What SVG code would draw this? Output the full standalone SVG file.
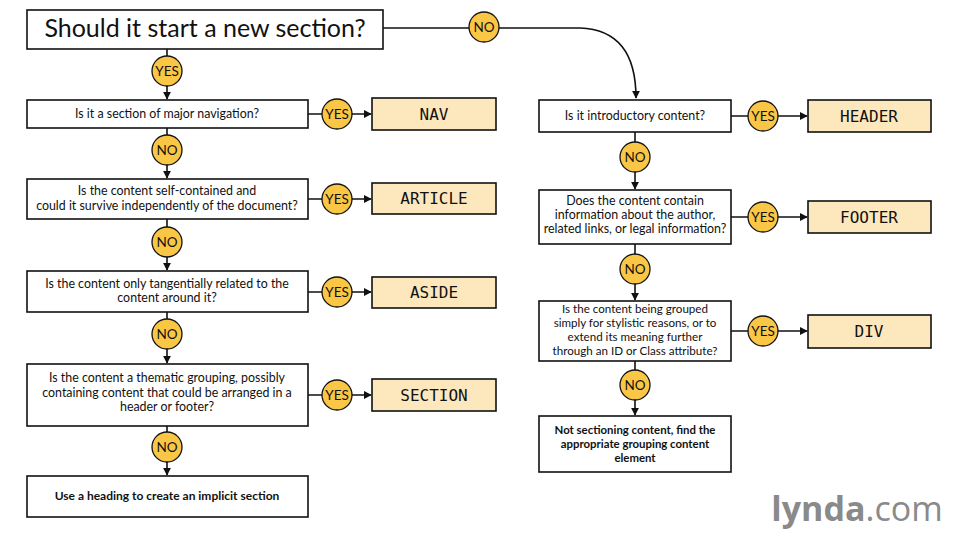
<svg xmlns="http://www.w3.org/2000/svg" width="959" height="535" viewBox="0 0 959 535">
<defs>
<marker id="ah" viewBox="0 0 10 10" refX="9" refY="5" markerWidth="5" markerHeight="5" orient="auto"><path d="M0,0 L10,5 L0,10 z" fill="#111"/></marker>
<style>
.q{fill:#fff;stroke:#111;stroke-width:1.6}
.a{fill:#fde8bd;stroke:#111;stroke-width:1.6}
.c{fill:#f9c646;stroke:#111;stroke-width:1.3}
.t{font-family:Lato,"Open Sans",sans-serif;font-size:12.4px;fill:#111;text-anchor:middle}
.s{font-size:11.6px}
.b{font-weight:bold;font-size:12px}
.bs{font-weight:bold;font-size:11.4px}
.m{font-family:"DejaVu Sans Mono",monospace;font-size:16px;fill:#111;text-anchor:middle}
.ct{font-family:Lato,sans-serif;font-size:13.5px;fill:#111;text-anchor:middle}
.l{stroke:#111;stroke-width:1.6;fill:none}
</style>
</defs>
<rect width="959" height="535" fill="#fff"/>
<g id="connectors">
<path class="l" d="M383,28 H580 Q636,30 636,98" marker-end="url(#ah)"/>
<path class="l" d="M167,49 V99" marker-end="url(#ah)"/>
<path class="l" d="M167,128 V178" marker-end="url(#ah)"/>
<path class="l" d="M167,219 V270" marker-end="url(#ah)"/>
<path class="l" d="M167,312 V363" marker-end="url(#ah)"/>
<path class="l" d="M167,426 V475" marker-end="url(#ah)"/>
<path class="l" d="M308,114 H371" marker-end="url(#ah)"/>
<path class="l" d="M308,199 H371" marker-end="url(#ah)"/>
<path class="l" d="M308,292 H371" marker-end="url(#ah)"/>
<path class="l" d="M308,395 H371" marker-end="url(#ah)"/>
<path class="l" d="M635,132 V189" marker-end="url(#ah)"/>
<path class="l" d="M635,244 V300" marker-end="url(#ah)"/>
<path class="l" d="M635,361 V415" marker-end="url(#ah)"/>
<path class="l" d="M731,116 H807" marker-end="url(#ah)"/>
<path class="l" d="M731,217 H807" marker-end="url(#ah)"/>
<path class="l" d="M731,331 H807" marker-end="url(#ah)"/>
</g>
<g id="labels">
<circle class="c" cx="484" cy="27" r="15"/><text class="ct" x="484" y="32">NO</text>
<circle class="c" cx="167" cy="71" r="15"/><text class="ct" x="167" y="76">YES</text>
<circle class="c" cx="167" cy="150" r="15"/><text class="ct" x="167" y="155">NO</text>
<circle class="c" cx="167" cy="242" r="15"/><text class="ct" x="167" y="247">NO</text>
<circle class="c" cx="167" cy="334" r="15"/><text class="ct" x="167" y="339">NO</text>
<circle class="c" cx="167" cy="447" r="15"/><text class="ct" x="167" y="452">NO</text>
<circle class="c" cx="337" cy="114" r="15"/><text class="ct" x="337" y="119">YES</text>
<circle class="c" cx="337" cy="199" r="15"/><text class="ct" x="337" y="204">YES</text>
<circle class="c" cx="337" cy="292" r="15"/><text class="ct" x="337" y="297">YES</text>
<circle class="c" cx="337" cy="395" r="15"/><text class="ct" x="337" y="400">YES</text>
<circle class="c" cx="635" cy="157" r="15"/><text class="ct" x="635" y="162">NO</text>
<circle class="c" cx="635" cy="269" r="15"/><text class="ct" x="635" y="274">NO</text>
<circle class="c" cx="635" cy="385" r="15"/><text class="ct" x="635" y="390">NO</text>
<circle class="c" cx="763" cy="116" r="15"/><text class="ct" x="763" y="121">YES</text>
<circle class="c" cx="763" cy="217" r="15"/><text class="ct" x="763" y="222">YES</text>
<circle class="c" cx="763" cy="331" r="15"/><text class="ct" x="763" y="336">YES</text>
</g>
<g id="start"><rect class="q" x="27" y="10" width="356" height="39"/><text class="t" x="205" y="37" style="font-size:25px">Should it start a new section?</text></g>
<g id="q1"><rect class="q" x="27" y="100" width="281" height="28"/><text class="t" x="167" y="118">Is it a section of major navigation?</text></g>
<g id="q2"><rect class="q" x="27" y="179" width="281" height="40"/><text class="t" x="167" y="195">Is the content self-contained and</text><text class="t" x="167" y="210">could it survive independently of the document?</text></g>
<g id="q3"><rect class="q" x="27" y="271" width="281" height="41"/><text class="t" x="167" y="288">Is the content only tangentially related to the</text><text class="t" x="167" y="302">content around it?</text></g>
<g id="q4"><rect class="q" x="27" y="364" width="281" height="62"/><text class="t" x="167" y="382">Is the content a thematic grouping, possibly</text><text class="t" x="167" y="397">containing content that could be arranged in a</text><text class="t" x="167" y="411">header or footer?</text></g>
<g id="e1"><rect class="q" x="27" y="476" width="281" height="41"/><text class="t b" x="167" y="500">Use a heading to create an implicit section</text></g>
<g id="nav"><rect class="a" x="372" y="98" width="124" height="32"/><text class="m" x="434" y="120">NAV</text></g>
<g id="article"><rect class="a" x="372" y="183" width="124" height="31"/><text class="m" x="434" y="204">ARTICLE</text></g>
<g id="aside"><rect class="a" x="372" y="277" width="124" height="31"/><text class="m" x="434" y="298">ASIDE</text></g>
<g id="section"><rect class="a" x="372" y="379" width="124" height="32"/><text class="m" x="434" y="401">SECTION</text></g>
<g id="r1"><rect class="q" x="539" y="100" width="192" height="32"/><text class="t" x="635" y="120">Is it introductory content?</text></g>
<g id="r2"><rect class="q" x="539" y="190" width="192" height="54"/><text class="t" x="635" y="205">Does the content contain</text><text class="t" x="635" y="219">information about the author,</text><text class="t" x="635" y="233">related links, or legal information?</text></g>
<g id="r3"><rect class="q" x="539" y="301" width="192" height="60"/><text class="t s" x="635" y="313">Is the content being grouped</text><text class="t s" x="635" y="327">simply for stylistic reasons, or to</text><text class="t s" x="635" y="341">extend its meaning further</text><text class="t s" x="635" y="355">through an ID or Class attribute?</text></g>
<g id="r4"><rect class="q" x="539" y="416" width="192" height="56"/><text class="t bs" x="635" y="434">Not sectioning content, find the</text><text class="t bs" x="635" y="448">appropriate grouping content</text><text class="t bs" x="635" y="462">element</text></g>
<g id="header"><rect class="a" x="808" y="100" width="123" height="32"/><text class="m" x="869" y="122">HEADER</text></g>
<g id="footer"><rect class="a" x="808" y="201" width="123" height="32"/><text class="m" x="869" y="223">FOOTER</text></g>
<g id="div"><rect class="a" x="808" y="315" width="123" height="33"/><text class="m" x="869" y="337">DIV</text></g>
<text x="857" y="521" style="font-family:'Open Sans',sans-serif;font-size:34px;fill:#8a8a8a;text-anchor:middle"><tspan font-weight="bold">lynda</tspan>.com</text>
</svg>
